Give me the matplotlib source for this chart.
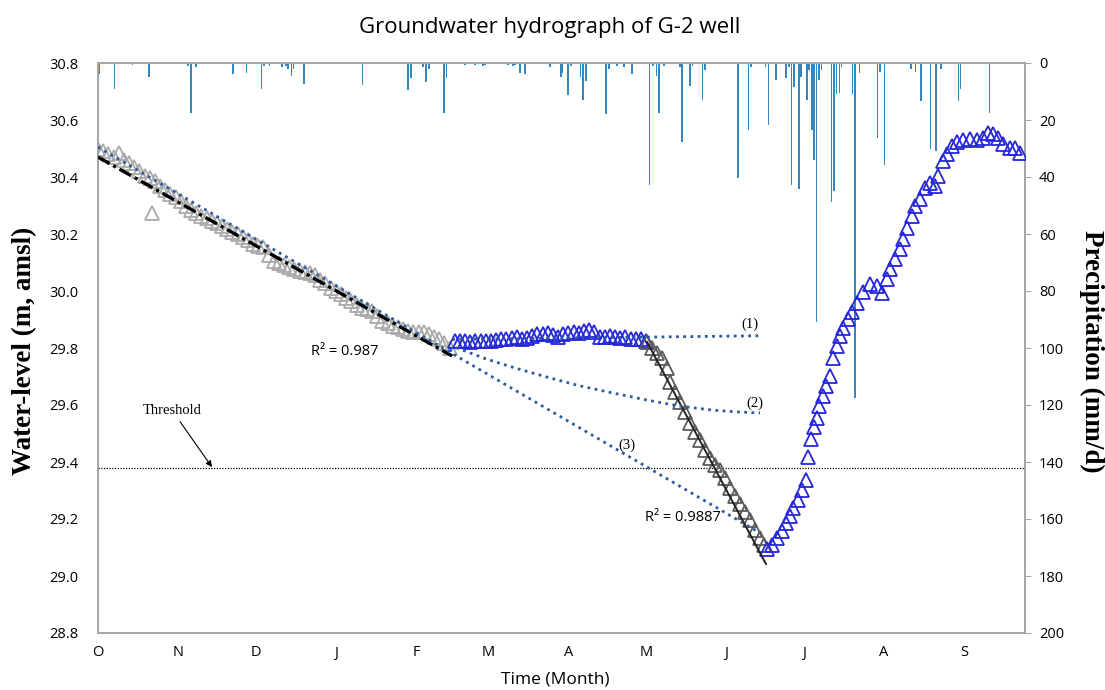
import matplotlib
matplotlib.use("Agg")
import matplotlib.pyplot as plt
import numpy as np

# ---------------- data ----------------
month_labels = ["O", "N", "D", "J", "F", "M", "A", "M", "J", "J", "A", "S"]
month_days = [0, 31, 61, 92, 123, 151, 182, 212, 243, 273, 304, 335]

# recession before rains (light grey triangles)
gray_days = [0, 2, 4, 6, 8, 10, 12, 14, 16, 18, 20, 21, 22, 24, 26, 28, 30, 32, 34, 36, 38,
             40, 42, 44, 46, 48, 50, 52, 54, 56, 58, 60, 62, 64, 66, 68, 70, 72, 74, 76, 78,
             80, 82, 84, 86, 88, 90, 92, 94, 96, 98, 100, 102, 104, 106, 108, 110, 112, 114,
             116, 118, 120, 122, 124, 126, 128, 130, 132, 134, 136]
gray_level = [30.500, 30.490, 30.480, 30.470, 30.485, 30.460, 30.450, 30.435, 30.420, 30.405,
              30.395, 30.274, 30.385, 30.370, 30.355, 30.340, 30.330, 30.315, 30.300, 30.285,
              30.275, 30.262, 30.255, 30.247, 30.238, 30.228, 30.218, 30.208, 30.200, 30.190,
              30.178, 30.165, 30.158, 30.153, 30.125, 30.106, 30.098, 30.092, 30.085, 30.078,
              30.070, 30.066, 30.062, 30.055, 30.038, 30.027, 30.012, 30.000, 29.990, 29.977,
              29.965, 29.952, 29.942, 29.936, 29.930, 29.912, 29.895, 29.886, 29.878, 29.872,
              29.866, 29.861, 29.857, 29.856, 29.856, 29.848, 29.838, 29.830, 29.818, 29.800]

# plateau (blue triangles)
blue1_days = [138, 140, 142, 144, 146, 148, 150, 152, 154, 156, 158, 160, 162, 164, 166, 168,
              170, 172, 174, 176, 178, 180, 182, 184, 186, 188, 190, 192, 194, 196, 198, 200,
              202, 204, 206, 208, 210, 212]
blue1_level = [29.825, 29.826, 29.824, 29.822, 29.823, 29.826, 29.824, 29.826, 29.829, 29.832,
               29.830, 29.835, 29.838, 29.833, 29.836, 29.842, 29.850, 29.848, 29.852, 29.845,
               29.838, 29.848, 29.852, 29.856, 29.852, 29.858, 29.862, 29.855, 29.840, 29.838,
               29.842, 29.840, 29.836, 29.838, 29.833, 29.832, 29.830, 29.825]

# steep decline (dark grey triangles)
dark_days = [212.4, 214.3, 216.2, 218.2, 220.1, 221.3, 223.2, 225.1, 227.1, 229.0, 231.0, 232.9,
             234.8, 236.8, 238.7, 240.7, 242.6, 244.5, 246.4, 248.4, 250.3, 252.2, 254.2, 256.1,
             257.7]
dark_level = [29.821, 29.800, 29.782, 29.765, 29.730, 29.681, 29.646, 29.611, 29.575, 29.537,
              29.505, 29.477, 29.442, 29.414, 29.389, 29.372, 29.344, 29.309, 29.281, 29.253,
              29.225, 29.196, 29.161, 29.133, 29.109]

# recovery (blue triangles)
blue2_days = [258.8, 260.7, 262.7, 264.6, 266.2, 267.7, 268.9, 270.8, 272.3, 273.9, 274.7, 275.8,
              277.0, 278.1, 278.9, 280.5, 281.6, 283.2, 284.3, 285.9, 287.0, 288.2, 290.1, 291.7,
              293.6, 295.9, 298.6, 301.4, 303.3, 305.2, 306.4, 308.3, 310.3, 311.4, 313.0, 314.9,
              316.1, 318.0, 319.9, 321.9, 323.8, 325.0, 326.9, 328.4, 330.4, 332.3, 334.6, 337.3,
              340.0, 342.4, 344.3, 346.2, 348.2, 350.1, 352.8, 354.7, 356.7]
blue2_level = [29.095, 29.109, 29.133, 29.158, 29.186, 29.211, 29.239, 29.267, 29.302, 29.337,
               29.418, 29.481, 29.523, 29.554, 29.596, 29.632, 29.667, 29.702, 29.765, 29.807,
               29.842, 29.870, 29.902, 29.926, 29.958, 29.996, 30.025, 30.018, 29.993, 30.042,
               30.077, 30.112, 30.147, 30.182, 30.221, 30.263, 30.298, 30.323, 30.361, 30.379,
               30.368, 30.404, 30.456, 30.481, 30.509, 30.523, 30.530, 30.533, 30.530, 30.537,
               30.554, 30.551, 30.537, 30.516, 30.502, 30.502, 30.484]

# trend lines
fit1_days = [0, 137]            # black dash-dot fit (R2 = 0.987)
fit1_level = [30.470, 29.772]
fit2_days = [212.4, 258.4]      # black fit on steep decline (R2 = 0.9887)
fit2_level = [29.821, 29.042]
proj1_days = [137, 256]         # scenario (1)
proj1_level = [29.830, 29.843]
proj2_days = [136, 138.9, 150, 162, 173.7, 186, 199.2, 212, 225.1, 237.9, 247, 256.1]  # scenario (2)
proj2_level = [29.790, 29.800, 29.762, 29.728, 29.698, 29.668, 29.642, 29.618, 29.596, 29.582,
               29.576, 29.572]
proj3_days = [0, 256.1]         # scenario (3), linear recession
proj3_level = [30.505, 29.151]

threshold = 29.38

# daily precipitation (mm/d)
precip_days = [0.1, 0.6, 6.3, 13.4, 19.8, 28.9, 34.9, 35.9, 37.9, 40.7, 52.3, 57.5, 58.1, 63.3,
               64.3, 66.3, 71.1, 72.7, 73.6, 74.9, 75.6, 79.7, 102.4, 120.0, 121.1, 125.7, 126.9,
               128.0, 133.8, 134.9, 142.0, 145.8, 148.9, 149.7, 158.6, 160.5, 161.3, 163.3,
               165.2, 174.9, 179.0, 179.7, 181.8, 182.9, 186.7, 187.7, 188.8, 196.5, 197.6,
               200.7, 203.5, 206.5, 213.3, 214.6, 216.1, 217.1, 218.9, 225.1, 226.0, 229.0,
               230.0, 233.9, 234.8, 247.5, 251.6, 252.6, 258.3, 259.3, 262.3, 266.2, 267.4,
               268.3, 269.2, 271.1, 271.9, 274.2, 275.0, 276.1, 277.0, 278.0, 278.9, 279.9,
               283.8, 284.8, 285.7, 286.8, 287.7, 291.9, 292.8, 294.5, 301.6, 302.5, 304.2,
               309.6, 314.4, 316.3, 318.3, 322.1, 324.1, 326.0, 332.8, 333.7, 336.7, 344.4,
               344.8, 345.7]
precip_mm = [5.4, 4.0, 9.2, 0.8, 4.8, 0.5, 1.0, 17.6, 1.5, 0.5, 3.9, 3.4, 0.5, 9.2,
             1.0, 1.0, 1.5, 1.0, 2.0, 4.6, 2.0, 7.5, 7.7, 9.5, 5.4, 1.5, 6.5,
             2.0, 17.6, 5.4, 0.8, 0.8, 1.0, 0.8, 0.8, 1.0, 0.8, 3.4,
             4.0, 1.5, 4.8, 3.4, 11.2, 1.0, 4.8, 13.0, 6.3, 17.9, 2.0,
             1.0, 1.5, 4.0, 42.8, 1.0, 4.4, 17.4, 1.0, 1.5, 27.6, 8.0,
             1.0, 13.0, 2.5, 40.5, 23.5, 1.5, 1.5, 21.8, 6.0, 5.4, 1.5,
             42.8, 8.3, 44.3, 4.8, 13.0, 2.5, 23.5, 34.0, 91.0, 6.0, 2.5,
             48.7, 45.0, 11.0, 10.4, 1.5, 11.0, 117.5, 3.5, 26.4, 3.0, 35.8,
             0.5, 2.0, 3.0, 13.2, 30.3, 31.0, 2.0, 13.5, 9.0, 0.5, 0.5,
             17.6, 0.5]

# ---------------- figure ----------------
W, H = 1105, 690
fig = plt.figure(figsize=(W / 100, H / 100), dpi=100)
ax = fig.add_axes([98 / W, 1 - 633 / H, (1025 - 98) / W, (633 - 63) / H])
ax2 = ax.twinx()

sans = "Open Sans"
serif = "Liberation Serif"
spine_col = "#A6A6A6"

# precipitation bars (hanging from the top)
ax2.bar(precip_days, precip_mm, width=0.6, color="#3585BE", linewidth=0, zorder=1)
ax2.set_ylim(200, 0)

# water level series
mk = dict(linestyle="none", marker="^", markersize=10.5, markerfacecolor="none", markeredgewidth=1.3)
ax.plot(gray_days, gray_level, markeredgecolor="#A9A9A9", zorder=2, **mk)
ax.plot(blue1_days, blue1_level, markeredgecolor="#2626DA", zorder=3, **mk)
ax.plot(dark_days, dark_level, markeredgecolor="#5A5A5A", zorder=3, **mk)
ax.plot(blue2_days, blue2_level, markeredgecolor="#2626DA", zorder=3, **mk)

# trend lines
dot_col = "#2A5C9E"
ax.plot(fit1_days, fit1_level, color="black", lw=2.4, linestyle=(0, (4, 1.2, 1, 1.2)), zorder=4)
ax.plot(proj3_days, proj3_level, color=dot_col, lw=2.0, linestyle=(0, (1, 1.6)), zorder=5)
ax.plot(proj1_days, proj1_level, color=dot_col, lw=2.0, linestyle=(0, (1, 1.6)), zorder=5)
ax.plot(proj2_days, proj2_level, color=dot_col, lw=2.0, linestyle=(0, (1, 1.6)), zorder=5)
ax.plot(fit2_days, fit2_level, color="#222222", lw=1.4, zorder=4)

# threshold
ax.axhline(threshold, color="black", lw=0.9, linestyle=(0, (1, 1.2)), zorder=2)
ax.annotate("Threshold", xy=(44.1, threshold + 0.002), xytext=(28.6, 29.582),
            ha="center", va="center", fontsize=10.5, family=serif,
            arrowprops=dict(arrowstyle="-|>", color="black", lw=0.8, mutation_scale=9,
                            shrinkA=2, shrinkB=0))

# annotations
ax.text(95.5, 29.786, "R² = 0.987", ha="center", va="center", fontsize=10.5, family=sans)
ax.text(226.3, 29.207, "R² = 0.9887", ha="center", va="center", fontsize=10.5, family=sans)
ax.text(252.2, 29.884, "(1)", ha="center", va="center", fontsize=10.5, family=serif)
ax.text(254.2, 29.607, "(2)", ha="center", va="center", fontsize=10.5, family=serif)
ax.text(204.6, 29.460, "(3)", ha="center", va="center", fontsize=10.5, family=serif)

# axes
ax.set_xlim(0, 358.6)
ax.set_ylim(28.8, 30.8)
ax.set_yticks(np.arange(28.8, 30.81, 0.2))
ax.set_yticklabels([f"{v:.1f}" for v in np.arange(28.8, 30.81, 0.2)], family=sans, fontsize=10.5)
ax.set_xticks(month_days)
ax.set_xticklabels(month_labels, family=sans, fontsize=10.5)
ax.tick_params(axis="x", length=0, pad=9)
ax.tick_params(axis="y", length=0, pad=14)
ax2.set_yticks(np.arange(0, 201, 20))
ax2.set_yticklabels([str(v) for v in range(0, 201, 20)], family=sans, fontsize=10.5)
ax2.tick_params(axis="y", length=4, color=spine_col, pad=6)

for a in (ax, ax2):
    for s in a.spines.values():
        s.set_color(spine_col)
        s.set_linewidth(1.3)

ax.set_zorder(ax2.get_zorder() + 1)
ax.patch.set_visible(False)

fig.text(550 / W, 1 - 28 / H, "Groundwater hydrograph of G-2 well", ha="center", va="center",
         fontsize=16, family=sans)
fig.text(555 / W, 1 - 680 / H, "Time (Month)", ha="center", va="center", fontsize=12.5, family=sans)
fig.text(25 / W, 1 - 351 / H, "Water-level (m, amsl)", ha="center", va="center", rotation=90,
         fontsize=19.5, fontweight="bold", family=serif)
fig.text(1092 / W, 1 - 351 / H, "Precipitation (mm/d)", ha="center", va="center", rotation=270,
         fontsize=19.5, fontweight="bold", family=serif)

fig.savefig("out.png", dpi=100)
